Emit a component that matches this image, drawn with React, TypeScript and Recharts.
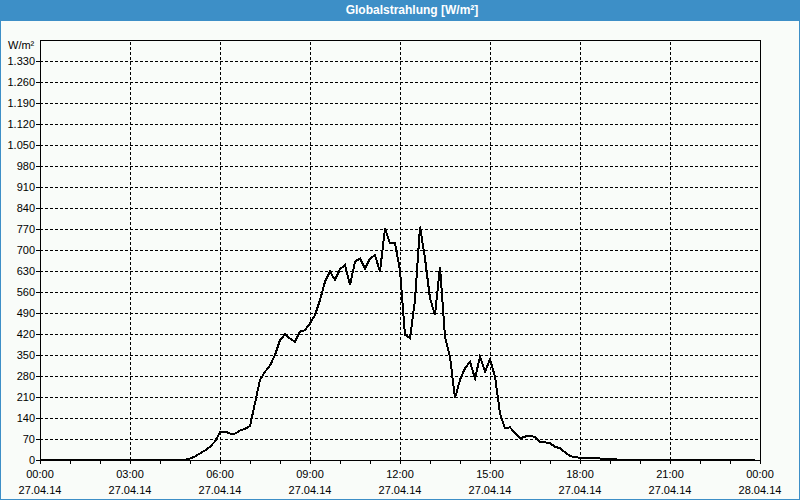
import React from "react";
import {
  CartesianGrid,
  Line,
  LineChart,
  ReferenceArea,
  ReferenceLine,
  XAxis,
  YAxis,
} from "recharts";

const TITLE = "Globalstrahlung [W/m²]";
const UNIT = "W/m²";

// Messzeitpunkte (27.04.14) und Werte in W/m²
const times = [
  "00:00", "04:50", "05:00", "05:10", "05:20", "05:30", "05:40", "05:50",
  "06:00", "06:10", "06:20", "06:30", "06:40", "06:50",
  "07:00", "07:10", "07:20", "07:30", "07:40", "07:50",
  "08:00", "08:10", "08:20", "08:30", "08:40", "08:50",
  "09:00", "09:10", "09:20", "09:30", "09:40", "09:50",
  "10:00", "10:10", "10:20", "10:30", "10:40", "10:50",
  "11:00", "11:10", "11:20", "11:30", "11:40", "11:50",
  "12:00", "12:10", "12:20", "12:30", "12:40", "12:50",
  "13:00", "13:10", "13:20", "13:30", "13:40", "13:50",
  "14:00", "14:10", "14:20", "14:30", "14:40", "14:50",
  "15:00", "15:10", "15:20", "15:30", "15:40", "15:50",
  "16:00", "16:10", "16:20", "16:30", "16:40", "16:50",
  "17:00", "17:10", "17:20", "17:30", "17:40", "17:50",
  "18:00", "18:10", "18:20", "18:30", "18:40", "18:50",
  "19:00", "19:10", "19:20", "19:30", "23:50",
];

const radiation = [
  0, 0, 5, 12, 22, 32, 44, 62,
  92, 95, 88, 88, 98, 104,
  113, 190, 267, 294, 315, 350,
  400, 419, 405, 394, 428, 433,
  456, 483, 533, 594, 628, 600,
  636, 650, 583, 661, 672, 639,
  672, 683, 628, 772, 722, 722,
  633, 417, 406, 533, 778, 672,
  539, 483, 644, 411, 344, 206,
  267, 306, 328, 272, 344, 294,
  336, 278, 156, 106, 109, 89,
  72, 78, 81, 76, 61, 59,
  56, 44, 39, 26, 13, 9,
  8, 8, 7, 6, 5, 4,
  3, 2, 1, 0, 0,
];

const yTicks = [
  0, 70, 140, 210, 280, 350, 420, 490, 560, 630, 700, 770, 840, 910, 980,
  1050, 1120, 1190, 1260, 1330,
];

// Stundenmarken in Minuten; Beschriftung nur alle 3 Stunden
const hourTicks = [
  0, 60, 120, 180, 240, 300, 360, 420, 480, 540, 600, 660, 720, 780, 840,
  900, 960, 1020, 1080, 1140, 1200, 1260, 1320, 1380, 1440,
];
const gridHours = [180, 360, 540, 720, 900, 1080, 1260];
const tickLabels: Record<number, [string, string]> = {
  0: ["00:00", "27.04.14"],
  180: ["03:00", "27.04.14"],
  360: ["06:00", "27.04.14"],
  540: ["09:00", "27.04.14"],
  720: ["12:00", "27.04.14"],
  900: ["15:00", "27.04.14"],
  1080: ["18:00", "27.04.14"],
  1260: ["21:00", "27.04.14"],
  1440: ["00:00", "28.04.14"],
};

const FONT = '"Liberation Sans", Arial, sans-serif';
const DASH = "3 2";

function toMinutes(s: string) {
  const [h, m] = s.split(":");
  return Number(h) * 60 + Number(m);
}

const rows = times.map((t, i) => ({ t: toMinutes(t), v: radiation[i] }));

function fmtY(v: number) {
  return v.toLocaleString("de-DE");
}

function XTick(props: any) {
  const { x, payload } = props;
  const lab = tickLabels[payload.value];
  if (!lab) return null;
  return (
    <g>
      <text x={x} y={478} textAnchor="middle" fontSize={11} fontFamily={FONT} fill="#000">
        {lab[0]}
      </text>
      <text x={x} y={494} textAnchor="middle" fontSize={11} fontFamily={FONT} fill="#000">
        {lab[1]}
      </text>
    </g>
  );
}

export default function App() {
  return (
    <div
      style={{
        position: "absolute",
        left: 0,
        top: 0,
        width: 800,
        height: 500,
        background: "#3d8fc7",
        overflow: "hidden",
      }}
    >
      <div
        style={{
          position: "absolute",
          left: 1,
          top: 21,
          width: 798,
          height: 478,
          background: "#f9fcf9",
        }}
      />
      <div
        style={{
          position: "absolute",
          left: 0,
          top: 0,
          width: 824,
          height: 21,
          lineHeight: "21px",
          textAlign: "center",
          color: "#fff",
          fontFamily: FONT,
          fontWeight: "bold",
          fontSize: 12,
        }}
      >
        {TITLE}
      </div>
      <div
        style={{
          position: "absolute",
          left: 8,
          top: 39,
          fontFamily: FONT,
          fontSize: 11,
          color: "#000",
        }}
      >
        {UNIT}
      </div>
      <div style={{ position: "absolute", left: 0, top: 0 }}>
        <LineChart
          width={800}
          height={500}
          data={rows}
          margin={{ top: 40, right: 40, left: 0, bottom: 0 }}
          style={{ shapeRendering: "crispEdges" }}
        >
          <CartesianGrid vertical={false} stroke="#000" strokeDasharray={DASH} />
          {gridHours.map((h) => (
            <ReferenceLine key={h} x={h} stroke="#000" strokeDasharray={DASH} />
          ))}
          <XAxis
            dataKey="t"
            type="number"
            domain={[0, 1440]}
            ticks={hourTicks}
            interval={0}
            height={40}
            tickSize={4}
            tickMargin={2}
            stroke="#000"
            tickLine={{ stroke: "#000" }}
            tick={<XTick />}
          />
          <YAxis
            type="number"
            domain={[0, 1400]}
            ticks={yTicks}
            interval={0}
            width={40}
            tickSize={4}
            tickMargin={1}
            tickFormatter={fmtY}
            stroke="#000"
            tick={{ fill: "#000", fontSize: 11, fontFamily: FONT }}
          />
          <ReferenceArea
            x1={0}
            x2={1440}
            y1={0}
            y2={1400}
            fill="none"
            stroke="#000"
            strokeWidth={1}
            ifOverflow="visible"
          />
          <Line
            type="linear"
            dataKey="v"
            stroke="#000"
            strokeWidth={2}
            dot={false}
            isAnimationActive={false}
          />
        </LineChart>
      </div>
    </div>
  );
}
